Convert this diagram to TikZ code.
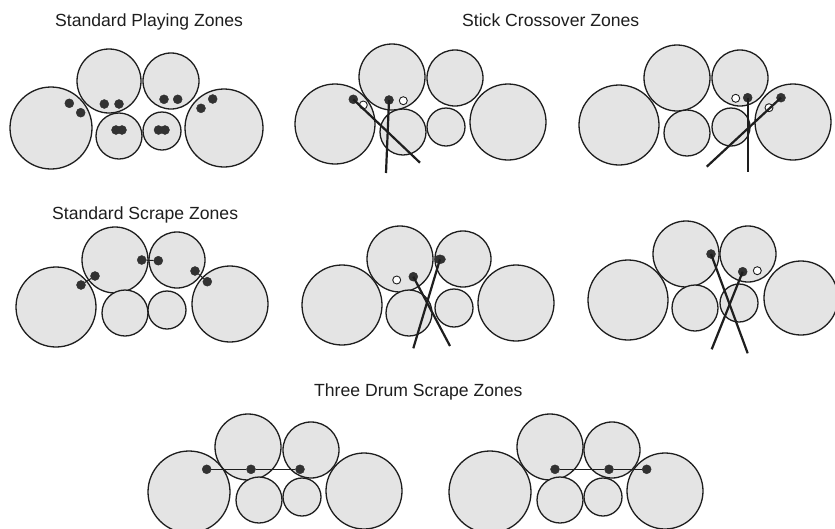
\documentclass[tikz,border=0pt]{standalone}
\usepackage{fontspec}
\setmainfont{Liberation Sans}
\usetikzlibrary{shapes.geometric}
\definecolor{drumfill}{RGB}{228,228,228}
\definecolor{ink}{RGB}{30,30,30}
\definecolor{dotc}{RGB}{50,50,50}
\newcommand{\drum}[4]{\node[drum, minimum size=#4*2pt] (#1) at (#2,#3) {};}
\newcommand{\hit}[3]{\node[hitdot] (#1) at (#2,#3) {};}
\newcommand{\openhit}[3]{\node[opendot] (#1) at (#2,#3) {};}
\begin{document}
\begin{tikzpicture}[x=1pt,y=-1pt,
  drum/.style={circle, draw=ink, fill=drumfill, line width=1.3pt, inner sep=0pt},
  hitdot/.style={circle, draw=dotc, fill=dotc, minimum size=9pt, inner sep=0pt},
  opendot/.style={circle, draw=ink, fill=white, line width=0.9pt, minimum size=8pt, inner sep=0pt},
  stick/.style={draw=ink, line width=2.2pt},
  scrape/.style={draw=ink, line width=1pt},
  title/.style={anchor=base west, inner sep=0pt, font=\fontsize{17.6}{21}\selectfont, text=ink}]
\useasboundingbox (0,0) rectangle (835,528);
\fill[white] (0,0) rectangle (835,528);
% titles
\node[title] (t1) at (55,26.5) {Standard Playing Zones};
\node[title] (t2) at (462,26.5) {Stick Crossover Zones};
\node[title] (t3) at (52,219) {Standard Scrape Zones};
\node[title] (t4) at (314,396) {Three Drum Scrape Zones};
% ---------- Diagram 1 ----------
\drum{a1}{51}{128}{41}\drum{b1}{109}{81}{32}\drum{c1}{171}{81}{28}
\drum{d1}{224}{128}{39}\drum{e1}{119}{136}{23}\drum{f1}{162}{131}{19}
\hit{p1}{69.3}{103.3}\hit{p2}{80.7}{112.7}
\hit{p3}{104.3}{104}\hit{p4}{119}{104}
\hit{p5}{164}{99.3}\hit{p6}{177.7}{99.3}
\hit{p7}{212.7}{99}\hit{p8}{201}{108.3}
\hit{p9}{116}{130}\hit{p10}{122}{130}
\hit{p11}{158.5}{130}\hit{p12}{165}{130}
% ---------- Diagram 2 ----------
\drum{a2}{335}{124}{40}\drum{b2}{392}{77}{33}\drum{c2}{455}{78}{28}
\drum{d2}{508}{122}{38}\drum{e2}{403}{132}{23}\drum{f2}{446}{127}{19}
\openhit{o21}{403.3}{100.7}\openhit{o22}{363.3}{105}
\coordinate (s21) at (420,162.7);
\coordinate (s22) at (386,173);
\hit{q21}{353.3}{99.3}\hit{q22}{389}{100}
\draw[stick] (q21.center) -- (s21);
\draw[stick] (q22.center) -- (s22);
% ---------- Diagram 3 ----------
\drum{a3}{619}{125}{40}\drum{b3}{677}{78}{33}\drum{c3}{740}{78}{28}
\drum{d3}{793}{122}{38}\drum{e3}{687}{133}{23}\drum{f3}{731}{127}{19}
\openhit{o31}{735.7}{98.3}\openhit{o32}{769}{107.7}
\coordinate (s31) at (747.7,171.7);
\coordinate (s32) at (706.7,166.7);
\hit{q31}{747.7}{97.7}\hit{q32}{781}{97.7}
\draw[stick] (q31.center) -- (s31);
\draw[stick] (q32.center) -- (s32);
% ---------- Diagram 4 ----------
\drum{a4}{56}{307}{40}\drum{b4}{115}{260}{33}\drum{c4}{177}{260}{28}
\drum{d4}{230}{304}{38}\drum{e4}{125}{313}{23}\drum{f4}{167}{310}{19}
\hit{r1}{81}{285}\hit{r2}{95}{276}
\hit{r3}{141.7}{260}\hit{r4}{158.3}{260.7}
\hit{r5}{195}{271}\hit{r6}{207.3}{281.7}
\draw[scrape] (r1) -- (r2);
\draw[scrape] (r3) -- (r4);
\draw[scrape] (r5) -- (r6);
% ---------- Diagram 5 ----------
\drum{a5}{342}{305}{40}\drum{b5}{400}{259}{33}\drum{c5}{463}{259}{28}
\drum{d5}{516}{303}{38}\drum{e5}{409}{313}{23}\drum{f5}{454}{308}{19}
\openhit{o51}{396.7}{280}
\coordinate (s51) at (450,346);
\coordinate (s52) at (413.3,348.3);
\hit{q51}{413.3}{276.7}
\node[hitdot, ellipse, minimum width=11pt, minimum height=9pt] (q52) at (440,259.3) {};
\draw[stick] (q51.center) -- (s51);
\draw[stick] (q52.center) -- (s52);
% ---------- Diagram 6 ----------
\drum{a6}{628}{300}{40}\drum{b6}{686}{254}{33}\drum{c6}{748}{254}{28}
\drum{d6}{801}{298}{37}\drum{e6}{695}{308}{23}\drum{f6}{739}{303}{19}
\openhit{o61}{757.3}{270.7}
\coordinate (s61) at (747.7,353.3);
\coordinate (s62) at (711.7,349.3);
\hit{q61}{711}{254}\hit{q62}{742.7}{271.7}
\draw[stick] (q61.center) -- (s61);
\draw[stick] (q62.center) -- (s62);
% ---------- Diagram 7 ----------
\drum{a7}{189}{492}{41}\drum{b7}{248}{447}{33}\drum{c7}{311}{450}{28}
\drum{d7}{364}{491}{38}\drum{e7}{259}{500}{23}\drum{f7}{302}{497}{19}
\hit{u1}{206.7}{469.3}\hit{u2}{251}{469.3}\hit{u3}{300}{469.3}
\draw[scrape] (u1) -- (u2) -- (u3);
% ---------- Diagram 8 ----------
\drum{a8}{490}{492}{41}\drum{b8}{550}{447}{33}\drum{c8}{612}{450}{28}
\drum{d8}{665}{491}{38}\drum{e8}{560}{500}{23}\drum{f8}{603}{497}{19}
\hit{v1}{555}{469.3}\hit{v2}{609}{469.3}\hit{v3}{646.7}{469.3}
\draw[scrape] (v1) -- (v2) -- (v3);
\end{tikzpicture}
\end{document}
